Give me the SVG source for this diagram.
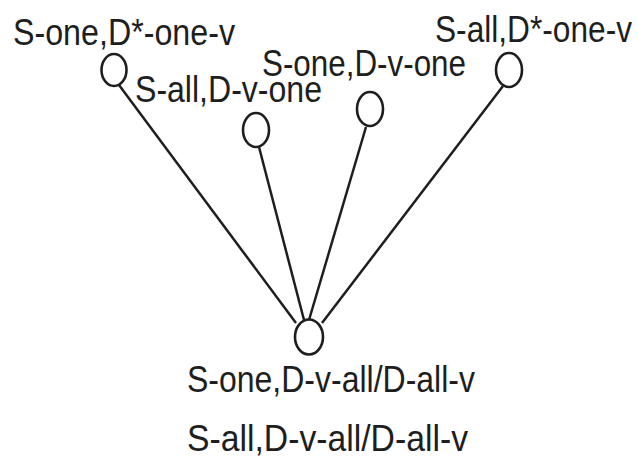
<svg xmlns="http://www.w3.org/2000/svg" width="638" height="458" viewBox="0 0 638 458">
  <style>
    .node { fill: #ffffff; stroke: #1e1e1e; stroke-width: 2.6; }
    .edge { stroke: #1e1e1e; stroke-width: 2.5; fill: none; }
    .lbl { font-family: "Liberation Sans", Arial, sans-serif; font-size: 36px; fill: #1e1e1e; }
  </style>
  <rect width="638" height="458" fill="#ffffff"/>

  <!-- connectors from each upper node down to the common node -->
  <g id="connectors">
    <line class="edge" x1="119" y1="85" x2="296" y2="323"/>
    <line class="edge" x1="259" y1="147" x2="304" y2="320"/>
    <line class="edge" x1="366" y1="127" x2="309" y2="320"/>
    <line class="edge" x1="503" y1="86" x2="322" y2="323"/>
  </g>

  <g id="n1">
    <ellipse class="node" cx="114" cy="70" rx="12.5" ry="16"/>
    <text class="lbl" x="13" y="45" textLength="222" lengthAdjust="spacingAndGlyphs">S-one,D*-one-v</text>
  </g>

  <g id="n2">
    <ellipse class="node" cx="256" cy="130" rx="13" ry="17"/>
    <text class="lbl" x="135" y="102" textLength="187" lengthAdjust="spacingAndGlyphs">S-all,D-v-one</text>
  </g>

  <g id="n3">
    <ellipse class="node" cx="370" cy="109" rx="13" ry="17"/>
    <text class="lbl" x="262" y="76" textLength="204" lengthAdjust="spacingAndGlyphs">S-one,D-v-one</text>
  </g>

  <g id="n4">
    <ellipse class="node" cx="509" cy="70" rx="13" ry="17"/>
    <text class="lbl" x="435" y="42" textLength="197" lengthAdjust="spacingAndGlyphs">S-all,D*-one-v</text>
  </g>

  <g id="n5">
    <ellipse class="node" cx="309" cy="337" rx="14" ry="17.5"/>
    <text class="lbl" x="187" y="392" textLength="288" lengthAdjust="spacingAndGlyphs">S-one,D-v-all/D-all-v</text>
    <text class="lbl" x="187" y="451" textLength="281" lengthAdjust="spacingAndGlyphs">S-all,D-v-all/D-all-v</text>
  </g>
</svg>
